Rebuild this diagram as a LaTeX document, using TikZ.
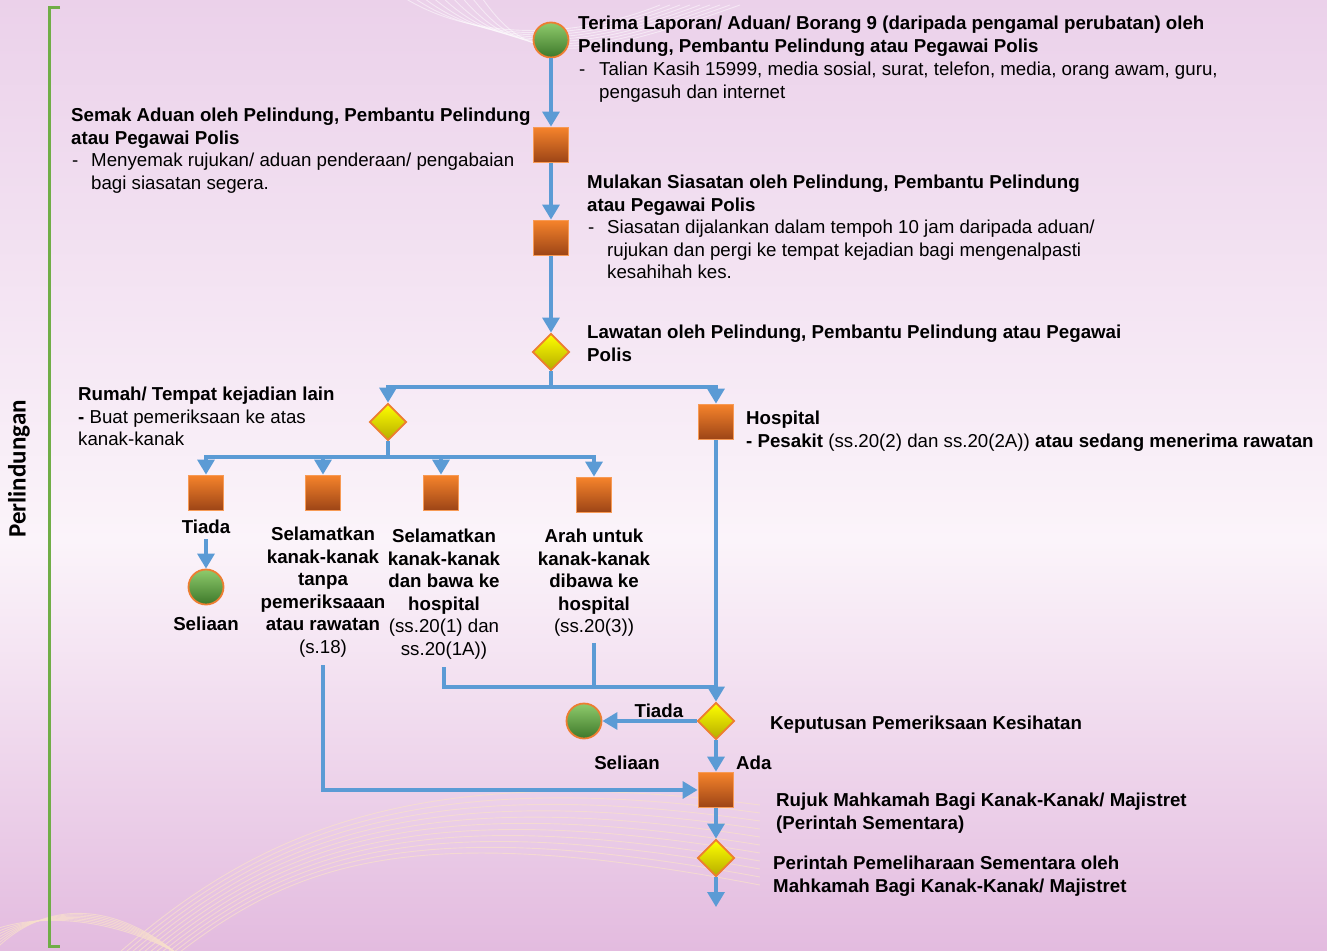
\documentclass[tikz,border=0pt]{standalone}
\usepackage{fontspec}
\setmainfont{Liberation Sans}
\newfontfamily\sidefont{Carlito}
\usetikzlibrary{shapes.geometric,arrows.meta,positioning}

\definecolor{lineblue}{HTML}{5B9BD5}
\definecolor{boxtop}{HTML}{F5832B}
\definecolor{boxbot}{HTML}{9C4416}
\definecolor{boxedge}{HTML}{F79A55}
\definecolor{dmdtop}{HTML}{FFFF00}
\definecolor{dmdbot}{HTML}{B5AC00}
\definecolor{rimorange}{HTML}{ED7D31}
\definecolor{dottop}{HTML}{8FCB6C}
\definecolor{dotbot}{HTML}{3D782A}
\definecolor{brgreen}{HTML}{70AD47}
\definecolor{bgtop}{HTML}{EBD1EA}
\definecolor{bgmid}{HTML}{FBF4FA}
\definecolor{bgbot}{HTML}{E3BBDF}
\definecolor{wavecream}{HTML}{F8E0CC}

\newcommand\basefont{\fontsize{18.7}{22.5}\selectfont}

\tikzset{
  flow/.style={draw=lineblue, line width=3.3pt, -{Triangle[width=17pt,length=15pt]}},
  link/.style={draw=lineblue, line width=3.3pt},
  task/.style={rectangle, minimum size=35pt, inner sep=0pt, draw=boxedge, line width=1.8pt, top color=boxtop, bottom color=boxbot},
  choice/.style={diamond, aspect=1, minimum width=37pt, minimum height=37pt, inner sep=0pt, draw=rimorange, line width=1.8pt, top color=dmdtop, bottom color=dmdbot},
  terminal/.style={circle, minimum size=35pt, inner sep=0pt, draw=rimorange, line width=1.8pt, top color=dottop, bottom color=dotbot},
  head/.style={anchor=north west, align=left, inner sep=0pt, font=\basefont\bfseries},
  body/.style={anchor=north west, align=left, inner sep=0pt, font=\basefont},
  hyphen/.style={body, text height=13.6pt},
  note/.style={anchor=north, align=center, inner sep=0pt, font=\basefont\bfseries},
  wave/.style={draw=wavecream, line width=0.9pt, opacity=0.75},
  topwave/.style={draw=white, line width=0.9pt, opacity=0.5}
}

\begin{document}
\begin{tikzpicture}[x=1pt, y=-1pt]
  \useasboundingbox (0,0) rectangle (1327,950);
  \shade[top color=bgtop, bottom color=bgmid] (0,0) rectangle (1327,540);
  \shade[top color=bgmid, bottom color=bgbot] (0,540) rectangle (1327,950);
  \foreach \k in {0,...,10}
    \draw[wave] ({120+6*\k},952) .. controls ({260+4*\k},{830+3*\k}) and (420,{760+6*\k}) .. (760,{805+8*\k});
  \foreach \k in {0,...,6}
    \draw[wave] (-10,{955-4*\k}) .. controls (40,{900+2*\k}) and (110,{900+3*\k}) .. (175,952);
  \foreach \k in {0,...,8}
    \draw[topwave] ({400+10*\k},-5) .. controls ({460+8*\k},{35+3*\k}) and (560,{45+3*\k}) .. ({660+10*\k},5);

  \draw[brgreen, line width=3pt] (60,8) -- (49,8) -- (49,946) -- (60,946);
  \node[rotate=90, inner sep=0pt, font=\sidefont\bfseries\fontsize{25}{28}\selectfont] (side) at (19,469) {Perlindungan};

  \node[terminal] (c1) at (551,40) {};
  \node[task] (s1) at (551,145) {};
  \node[task] (s2) at (551,238) {};
  \node[choice] (d1) at (551,352) {};
  \node[choice] (d2) at (388,422) {};
  \node[task] (h) at (716,422) {};
  \node[task] (a1) at (206,493) {};
  \node[task] (a2) at (323,493) {};
  \node[task] (a3) at (441,493) {};
  \node[task] (a4) at (594,495) {};
  \node[terminal] (c2) at (206,587) {};
  \node[choice] (d3) at (716,721) {};
  \node[terminal] (c3) at (584,721) {};
  \node[task] (r1) at (716,790) {};
  \node[choice] (d4) at (716,858) {};
  \coordinate (j1) at (551,387);
  \coordinate (j2) at (388,457);
  \coordinate (j3) at (716,687);
  \coordinate (e) at (716,907);

  \node[head] (t1) at (578,16) {Terima Laporan/ Aduan/ Borang 9 (daripada pengamal perubatan) oleh\\Pelindung, Pembantu Pelindung atau Pegawai Polis};
  \node[hyphen] (t1d) at (579,62) {-};
  \node[body] (t1b) at (599,62) {Talian Kasih 15999, media sosial, surat, telefon, media, orang awam, guru,\\pengasuh dan internet};
  \node[head] (t2) at (71,108) {Semak Aduan oleh Pelindung, Pembantu Pelindung\\atau Pegawai Polis};
  \node[hyphen] (t2d) at (72,153) {-};
  \node[body] (t2b) at (91,153) {Menyemak rujukan/ aduan penderaan/ pengabaian\\bagi siasatan segera.};
  \node[head] (t3) at (587,175) {Mulakan Siasatan oleh Pelindung, Pembantu Pelindung\\atau Pegawai Polis};
  \node[hyphen] (t3d) at (588,220) {-};
  \node[body] (t3b) at (607,220) {Siasatan dijalankan dalam tempoh 10 jam daripada aduan/\\rujukan dan pergi ke tempat kejadian bagi mengenalpasti\\kesahihah kes.};
  \node[head] (t4) at (587,325) {Lawatan oleh Pelindung, Pembantu Pelindung atau Pegawai\\Polis};
  \node[body] (t5) at (78,387) {\textbf{Rumah/ Tempat kejadian lain}\\\textbf{-} Buat pemeriksaan ke atas\\kanak-kanak};
  \node[body] (t6) at (746,411) {\textbf{Hospital}\\\textbf{- Pesakit} (ss.20(2) dan ss.20(2A)) \textbf{atau sedang menerima rawatan}};
  \node[head] (t7) at (770,716) {Keputusan Pemeriksaan Kesihatan};
  \node[head] (t8) at (776,793) {Rujuk Mahkamah Bagi Kanak-Kanak/ Majistret\\(Perintah Sementara)};
  \node[head] (t9) at (773,856) {Perintah Pemeliharaan Sementara oleh\\Mahkamah Bagi Kanak-Kanak/ Majistret};

  \node[note] (n1) at (206,520) {Tiada};
  \node[note] (n2) at (323,527) {Selamatkan\\kanak-kanak\\tanpa\\pemeriksaaan\\atau rawatan\\\textnormal{(s.18)}};
  \node[note] (n3) at (444,529) {Selamatkan\\kanak-kanak\\dan bawa ke\\hospital\\\textnormal{(ss.20(1) dan}\\\textnormal{ss.20(1A))}};
  \node[note] (n4) at (594,529) {Arah untuk\\kanak-kanak\\dibawa ke\\hospital\\\textnormal{(ss.20(3))}};
  \node[note] (sl1) at (206,617) {Seliaan};
  \node[note] (sl2) at (627,756) {Seliaan};
  \node[note, anchor=north west] (ada) at (736,756) {Ada};

  \draw[flow] (c1) -- (s1);
  \draw[flow] (s1) -- (s2);
  \draw[flow] (s2) -- (d1);
  \draw[flow] (d1) -- (j1) -| (d2);
  \draw[flow] (j1) -| (h);
  \draw[flow] (d2) -- (j2) -| (a1);
  \draw[flow] (j2) -| (a2);
  \draw[flow] (j2) -| (a3);
  \draw[flow] (j2) -| (a4);
  \draw[flow, shorten <=5pt] (n1) -- (c2);
  \draw[flow, shorten <=8pt] (n2.south) |- (r1);
  \draw[link, shorten <=8pt] (n3.south) |- (j3);
  \draw[link, shorten <=6pt] (n4.south) -- (n4.south |- j3);
  \draw[flow] (h) -- (d3);
  \draw[flow] (d3) -- node[pos=0.4, above=-2pt, font=\basefont\bfseries] (td) {Tiada} (c3);
  \draw[flow] (d3) -- (r1);
  \draw[flow] (r1) -- (d4);
  \draw[flow] (d4) -- (e);
\end{tikzpicture}
\end{document}
